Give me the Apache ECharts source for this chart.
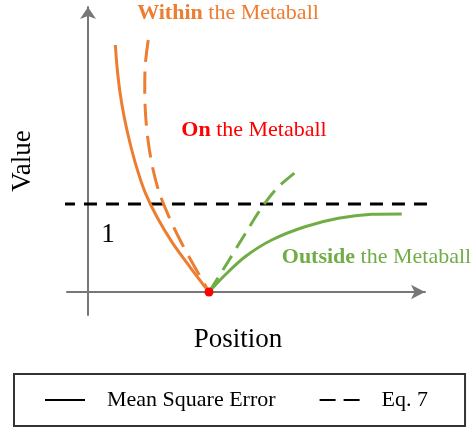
<!DOCTYPE html>
<html>
<head>
<meta charset="utf-8">
<script src="https://cdn.jsdelivr.net/npm/echarts@6/dist/echarts.min.js"></script>
<style>
html,body{margin:0;padding:0;background:#fff;}
#chart{width:473px;height:434px;}
</style>
</head>
<body>
<div id="chart"></div>
<script>
// ---- data (position, value) ----
var withinMSE = [[0.226,2.807],[0.240,2.557],[0.264,2.273],[0.299,1.989],[0.345,1.705],[0.401,1.420],[0.471,1.136],[0.570,0.852],[0.694,0.568],[0.843,0.284],[1,0]];
var withinEq7 = [[0.498,2.864],[0.472,2.557],[0.469,2.273],[0.477,1.989],[0.498,1.705],[0.533,1.420],[0.587,1.136],[0.670,0.852],[0.769,0.568],[0.882,0.284],[1,0]];
var outsideMSE = [[1,0],[1.132,0.193],[1.298,0.401],[1.518,0.591],[1.793,0.742],[2.069,0.838],[2.345,0.883],[2.593,0.888]];
var outsideEq7 = [[1,0],[1.160,0.350],[1.298,0.660],[1.436,0.960],[1.573,1.195],[1.738,1.386]];
var onPoint = [[1,0]];
var thresholdLine = [[-0.397,1],[2.843,1]];
var xRange = [-0.1736, 2.785];
var yRange = [-0.261, 3.239];
var legendNames = ['Mean Square Error','Eq. 7'];
var annotations = [
  {name:'within', value:[1.157,3.17], bold:'Within', rest:' the Metaball', color:'#ED7D31'},
  {name:'on', value:[1.372,1.841], bold:'On', rest:' the Metaball', color:'#FF0000'},
  {name:'outside', value:[2.384,0.398], bold:'Outside', rest:' the Metaball', color:'#70AD47'}
];
var oneLabel = [[0.165,0.653]];

var FONT = 'Liberation Serif';
var ORANGE = '#ED7D31', GREEN = '#70AD47';

var chart = echarts.init(document.getElementById('chart'), null, {renderer:'canvas'});

function annSeries(a){
  return {
    type:'scatter', name:a.name, symbolSize:0, z:5, silent:true,
    itemStyle:{opacity:1},
    data:[a.value],
    label:{show:true, position:'inside', opacity:1, formatter:'{b|'+a.bold+'}{n|'+a.rest+'}',
      rich:{
        b:{fontFamily:FONT, fontSize:22, fontWeight:'bold', color:a.color},
        n:{fontFamily:FONT, fontSize:22, color:a.color}
      }}
  };
}

var option = {
  animation:false,
  backgroundColor:'#fff',
  grid:{left:67, right:48, top:7, bottom:119, outerBoundsMode:'none', containLabel:false},
  legend:{
    data:[
      {name:legendNames[0], icon:'path://M0,0H40V2H0Z'},
      {name:legendNames[1], icon:'path://M0,0H16V2H0Z M24,0H40V2H24Z'}
    ],
    left:14, top:374, orient:'horizontal',
    padding:[15,37,15,31], itemWidth:40, itemHeight:2, itemGap:44,
    borderColor:'#333', borderWidth:2, borderRadius:0,
    itemStyle:{color:'#000'},
    textStyle:{fontFamily:FONT, fontSize:22, color:'#000', padding:[0,0,0,17]}
  },
  xAxis:{
    type:'value', min:xRange[0], max:xRange[1],
    name:'Position', nameLocation:'middle', nameGap:11,
    nameTextStyle:{fontFamily:FONT, fontSize:27, color:'#000', padding:[0,16,0,0]},
    axisLine:{show:true, onZero:true, symbol:['none','arrow'], symbolSize:[11,14],
      lineStyle:{color:'#777', width:2}},
    axisTick:{show:false}, axisLabel:{show:false}, splitLine:{show:false}
  },
  yAxis:{
    type:'value', min:yRange[0], max:yRange[1],
    name:'Value', nameLocation:'middle', nameGap:31,
    nameTextStyle:{fontFamily:FONT, fontSize:27, color:'#000'},
    axisLine:{show:true, onZero:true, symbol:['none','arrow'], symbolSize:[12,12],
      lineStyle:{color:'#777', width:2}},
    axisTick:{show:false}, axisLabel:{show:false}, splitLine:{show:false}
  },
  series:[
    {type:'line', name:'threshold', data:thresholdLine, clip:false, symbol:'none', silent:true,
      lineStyle:{color:'#000', width:3, type:[13,9]}},
    {type:'line', name:'withinMSE', data:withinMSE, smooth:0.3, symbol:'none',
      lineStyle:{color:ORANGE, width:3}},
    {type:'line', name:'withinEq7', data:withinEq7, smooth:0.3, symbol:'none',
      lineStyle:{color:ORANGE, width:3, type:[22,10]}},
    {type:'line', name:'outsideMSE', data:outsideMSE, smooth:0.3, symbol:'none',
      lineStyle:{color:GREEN, width:3}},
    {type:'line', name:'outsideEq7', data:outsideEq7, smooth:0.3, symbol:'none',
      lineStyle:{color:GREEN, width:3, type:[17,9]}},
    {type:'scatter', name:'onPoint', data:onPoint, symbolSize:9, z:10,
      itemStyle:{color:'#FF0000', opacity:1}},
    annSeries(annotations[0]),
    annSeries(annotations[1]),
    annSeries(annotations[2]),
    {type:'scatter', name:'one', data:oneLabel, symbolSize:0, silent:true, itemStyle:{opacity:1},
      label:{show:true, position:'inside', formatter:'1', fontFamily:FONT, fontSize:27, color:'#000'}},
    {type:'line', name:'Mean Square Error', data:[], symbol:'none',
      itemStyle:{color:'#000'}, lineStyle:{color:'#000', width:2}},
    {type:'line', name:'Eq. 7', data:[], symbol:'none',
      itemStyle:{color:'#000'}, lineStyle:{color:'#000', width:2, type:[15,8]}}
  ]
};
chart.setOption(option);
</script>
</body>
</html>
